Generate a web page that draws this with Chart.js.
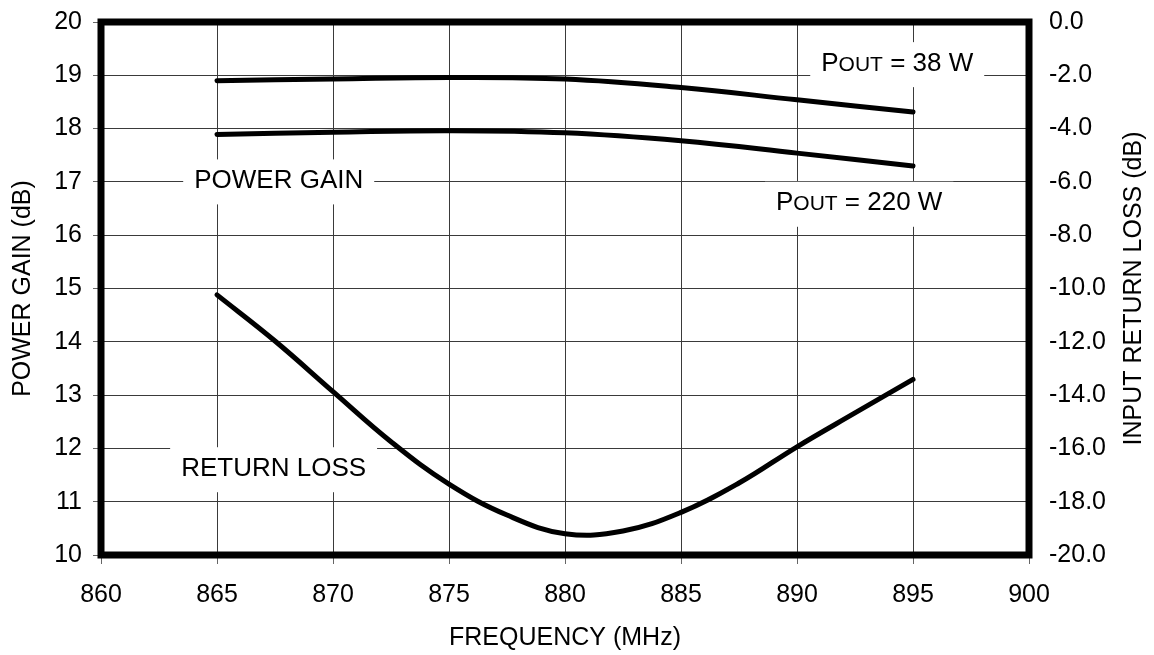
<!DOCTYPE html>
<html>
<head>
<meta charset="utf-8">
<script src="https://cdn.jsdelivr.net/npm/chart.js@4/dist/chart.umd.min.js"></script>
<style>
  html, body { margin: 0; padding: 0; background: #fff; }
  #wrap { width: 1154px; height: 655px; }
</style>
</head>
<body>
<div id="wrap"><canvas id="grafico"></canvas></div>
<script>
// gain curves (left axis, dB)
const freqGain = [865, 870, 875, 880, 885, 890, 895];
const gain38 = [18.90, 18.93, 18.96, 18.93, 18.77, 18.54, 18.31];
const gain220 = [17.89, 17.93, 17.96, 17.92, 17.77, 17.54, 17.30];

// input return loss (right axis, dB)
const freqRL = [865, 867.5, 870, 872.5, 875, 877.5, 880, 882.5, 885, 887.5, 890, 892.5, 895];
const returnLoss = [-10.24, -11.97, -13.87, -15.75, -17.34, -18.50, -19.20, -19.10, -18.40, -17.30, -15.94, -14.67, -13.41];

// axis ranges / ticks
const freqTicks = [860, 865, 870, 875, 880, 885, 890, 895, 900];
const gainTicks = [10, 11, 12, 13, 14, 15, 16, 17, 18, 19, 20];
const rlTicks = [-20, -18, -16, -14, -12, -10, -8, -6, -4, -2, 0];

const FONTE = '"Liberation Sans", Arial, sans-serif';
const tituloDireita = 'INPUT RETURN LOSS (dB)';

// text labels inside the plot; position given on the x / left y scales
const rotulos = [
    { partes: [['POWER GAIN', 1]], x: 867.66, y: 17.0 },
    { partes: [['RETURN LOSS', 1]], x: 867.44, y: 11.6 },
    { partes: [['P', 1], ['OUT', 0.8], [' = 38 W', 1]], x: 894.32, y: 19.2 },
    { partes: [['P', 1], ['OUT', 0.8], [' = 220 W', 1]], x: 892.68, y: 16.58 }
];

function pontos(xs, ys) {
    return xs.map((x, i) => ({ x: x, y: ys[i] }));
}

// fixed scale sizes so the plot area sits where it should
function ajustarVertical(largura) {
    return s => {
        s.width = largura;
        s.paddingTop = 0;
        s.paddingBottom = 0;
    };
}

const pluginRotulos = {
    id: 'rotulos',
    beforeDatasetsDraw(chart) {
        const ctx = chart.ctx;
        const sx = chart.scales.x, sy = chart.scales.y;
        ctx.save();
        rotulos.forEach(r => {
            let largura = 0;
            r.partes.forEach(p => {
                ctx.font = Math.round(26 * p[1]) + 'px ' + FONTE;
                largura += ctx.measureText(p[0]).width;
            });
            const cx = sx.getPixelForValue(r.x);
            const cy = sy.getPixelForValue(r.y);
            const w = largura + 22, h = 45;
            ctx.fillStyle = '#fff';
            ctx.fillRect(cx - w / 2, cy - h / 2, w, h);
            ctx.fillStyle = '#000';
            ctx.textBaseline = 'alphabetic';
            ctx.textAlign = 'left';
            let xx = cx - largura / 2;
            r.partes.forEach(p => {
                ctx.font = Math.round(26 * p[1]) + 'px ' + FONTE;
                ctx.fillText(p[0], xx, cy + 6);
                xx += ctx.measureText(p[0]).width;
            });
        });
        ctx.restore();
    },
    afterDatasetsDraw(chart) {
        const a = chart.chartArea;
        const ctx = chart.ctx;
        ctx.save();
        // heavy frame around the plot
        ctx.strokeStyle = '#000';
        ctx.lineWidth = 7;
        ctx.strokeRect(a.left, a.top, a.right - a.left, a.bottom - a.top);
        // right axis title, reading bottom to top like the left one
        ctx.translate(chart.width - 20, (a.top + a.bottom) / 2);
        ctx.rotate(-Math.PI / 2);
        ctx.font = '25px ' + FONTE;
        ctx.fillStyle = '#000';
        ctx.textAlign = 'center';
        ctx.textBaseline = 'middle';
        ctx.fillText(tituloDireita, 0, 0);
        ctx.restore();
    }
};

const linha = {
    borderColor: '#000',
    borderWidth: 5,
    pointRadius: 0,
    borderCapStyle: 'round',
    borderJoinStyle: 'round',
    tension: 0.4,
    fill: false
};

const grafico = new Chart(document.getElementById('grafico'), {
    type: 'line',
    data: {
        datasets: [
            Object.assign({ label: 'Pout = 38 W', data: pontos(freqGain, gain38), yAxisID: 'y' }, linha),
            Object.assign({ label: 'Pout = 220 W', data: pontos(freqGain, gain220), yAxisID: 'y' }, linha),
            Object.assign({ label: 'Return loss', data: pontos(freqRL, returnLoss), yAxisID: 'y1' }, linha)
        ]
    },
    options: {
        responsive: true,
        maintainAspectRatio: false,
        animation: false,
        layout: { padding: { top: 22, left: 0, right: 0, bottom: 0 } },
        plugins: { legend: { display: false }, tooltip: { enabled: false } },
        scales: {
            x: {
                type: 'linear',
                min: 860, max: 900,
                afterBuildTicks: s => { s.ticks = freqTicks.map(v => ({ value: v })); },
                afterFit: s => { s.height = 100; s.paddingLeft = 0; s.paddingRight = 0; },
                grid: { color: '#3a3a3a', lineWidth: 1, tickLength: 9, tickColor: '#666' },
                border: { display: false },
                ticks: { color: '#000', font: { family: FONTE, size: 25 }, padding: 16, maxRotation: 0 },
                title: { display: true, text: 'FREQUENCY (MHz)', color: '#000', font: { family: FONTE, size: 25 }, padding: { top: 0, bottom: 2 } }
            },
            y: {
                position: 'left',
                min: 10, max: 20,
                afterBuildTicks: s => { s.ticks = gainTicks.map(v => ({ value: v })); },
                afterFit: ajustarVertical(101),
                grid: { color: '#3a3a3a', lineWidth: 1, tickLength: 8, tickColor: '#666' },
                border: { display: false },
                ticks: { color: '#000', font: { family: FONTE, size: 25 }, padding: 11 },
                title: { display: true, text: 'POWER GAIN (dB)', color: '#000', font: { family: FONTE, size: 25 }, padding: { top: 8, bottom: 0 } }
            },
            y1: {
                position: 'right',
                min: -20, max: 0,
                afterBuildTicks: s => { s.ticks = rlTicks.map(v => ({ value: v })); },
                afterFit: ajustarVertical(125),
                grid: { drawOnChartArea: false, drawTicks: false },
                border: { display: false },
                ticks: { color: '#000', font: { family: FONTE, size: 25 }, padding: 20, callback: v => v.toFixed(1) },
                title: { display: false }
            }
        }
    },
    plugins: [pluginRotulos]
});
</script>
</body>
</html>
